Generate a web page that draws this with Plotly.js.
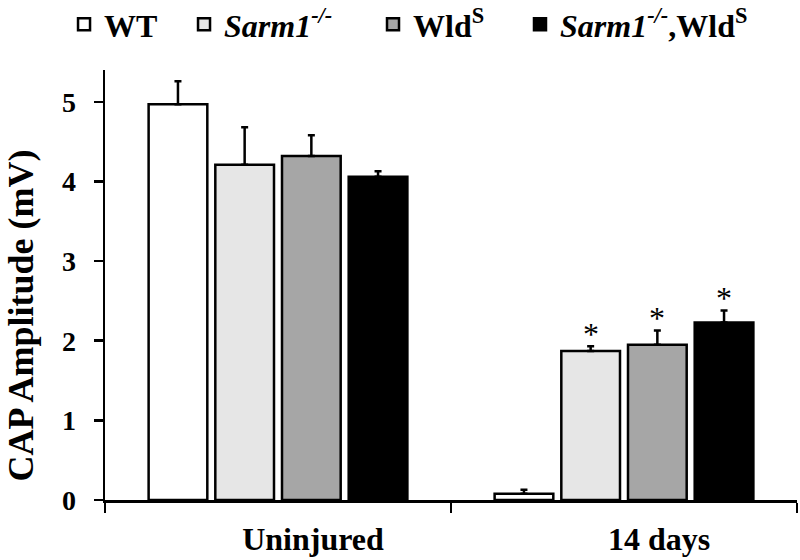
<!DOCTYPE html>
<html>
<head>
<meta charset="utf-8">
<script src="https://cdn.plot.ly/plotly-3.0.1.min.js"></script>
<style>html,body{margin:0;padding:0;background:#fff;}#chart{width:800px;height:560px;}</style>
</head>
<body>
<div id="chart"></div>
<script>
// Data
const categories = ['Uninjured', '14 days'];
const seriesNames = ['WT', '<i>Sarm1<sup>-/-</sup></i>', 'Wld<sup>S</sup>', '<i>Sarm1<sup>-/-</sup></i>,Wld<sup>S</sup>'];
const wtValues = [4.97, 0.08];
const wtErrors = [0.29, 0.05];
const sarm1Values = [4.21, 1.87];
const sarm1Errors = [0.47, 0.06];
const wldsValues = [4.32, 1.95];
const wldsErrors = [0.26, 0.18];
const doubleValues = [4.06, 2.23];
const doubleErrors = [0.07, 0.15];
// significance marks: [series index, category index]
const starMarks = [[1, 1], [2, 1], [3, 1]];
const yTicks = [0, 1, 2, 3, 4, 5];
const yTitle = 'CAP Amplitude (mV)';

const fillColors = ['#ffffff', '#e6e6e6', '#a6a6a6', '#000000'];
const legendX = [-0.0592, 0.1142, 0.3873, 0.5997];
const allValues = [wtValues, sarm1Values, wldsValues, doubleValues];
const allErrors = [wtErrors, sarm1Errors, wldsErrors, doubleErrors];
const FONT = 'Liberation Serif, Times New Roman, serif';
const legendIds = ['legend', 'legend2', 'legend3', 'legend4'];

const traces = allValues.map((vals, i) => ({
  type: 'bar',
  name: seriesNames[i],
  legend: legendIds[i],
  x: categories,
  y: vals,
  marker: {color: fillColors[i], line: {color: '#000', width: 2.5}},
  error_y: {type: 'data', symmetric: false, array: allErrors[i], arrayminus: vals.map(() => 0),
            color: '#000', thickness: 2.5, width: 3.5, visible: true},
  hoverinfo: 'skip'
}));

const bargap = 0.229;
const slot = (1 - bargap) / allValues.length;
const annotations = starMarks.map(([s, c]) => ({
  x: c + (s - (allValues.length - 1) / 2) * slot,
  y: allValues[s][c] + allErrors[s][c],
  xref: 'x', yref: 'y',
  text: '*', showarrow: false,
  yanchor: 'bottom', yshift: -8,
  font: {family: FONT, size: 32, color: '#000', weight: 'normal'}
}));
annotations.push({
  text: yTitle, textangle: -90, showarrow: false,
  xref: 'paper', yref: 'paper', x: -0.122, y: 0.428,
  xanchor: 'center', yanchor: 'middle',
  font: {family: FONT, size: 36, weight: 'bold', color: '#000'}
});

const layout = {
  width: 800, height: 560,
  margin: {l: 105, r: 3, t: 70, b: 60, autoexpand: false},
  paper_bgcolor: '#fff', plot_bgcolor: '#fff',
  barmode: 'group', bargap: bargap, bargroupgap: 0.12,
  font: {family: FONT, color: '#000', weight: 'bold'},
  showlegend: true,
  xaxis: {
    type: 'category', range: [-0.5, 1.5],
    showline: true, linecolor: '#000', linewidth: 2.5,
    ticks: 'outside', tickson: 'boundaries', ticklen: 10, tickwidth: 2.5, tickcolor: '#000',
    showgrid: false, zeroline: false,
    tickfont: {family: FONT, size: 32, weight: 'bold', color: '#000'},
    ticklabelshift: 35, ticklabelstandoff: 9
  },
  yaxis: {
    range: [0, 5.4], tickvals: yTicks, ticktext: yTicks.map(String),
    showline: true, linecolor: '#000', linewidth: 2.5,
    ticks: 'outside', ticklen: 9, tickwidth: 2.5, tickcolor: '#000',
    showgrid: false, zeroline: false,
    tickfont: {family: FONT, size: 28, weight: 'bold', color: '#000'},
    ticklabelstandoff: 12
  },
  annotations: annotations
};
legendIds.forEach((id, i) => {
  layout[id] = {orientation: 'h', x: legendX[i], xanchor: 'left', y: 1.17, yanchor: 'top',
                font: {family: FONT, size: 32, weight: 'bold', color: '#000'},
                bgcolor: 'rgba(0,0,0,0)', itemwidth: 30, itemclick: false};
});

Plotly.newPlot('chart', traces, layout, {staticPlot: true, displayModeBar: false});
</script>
</body>
</html>
